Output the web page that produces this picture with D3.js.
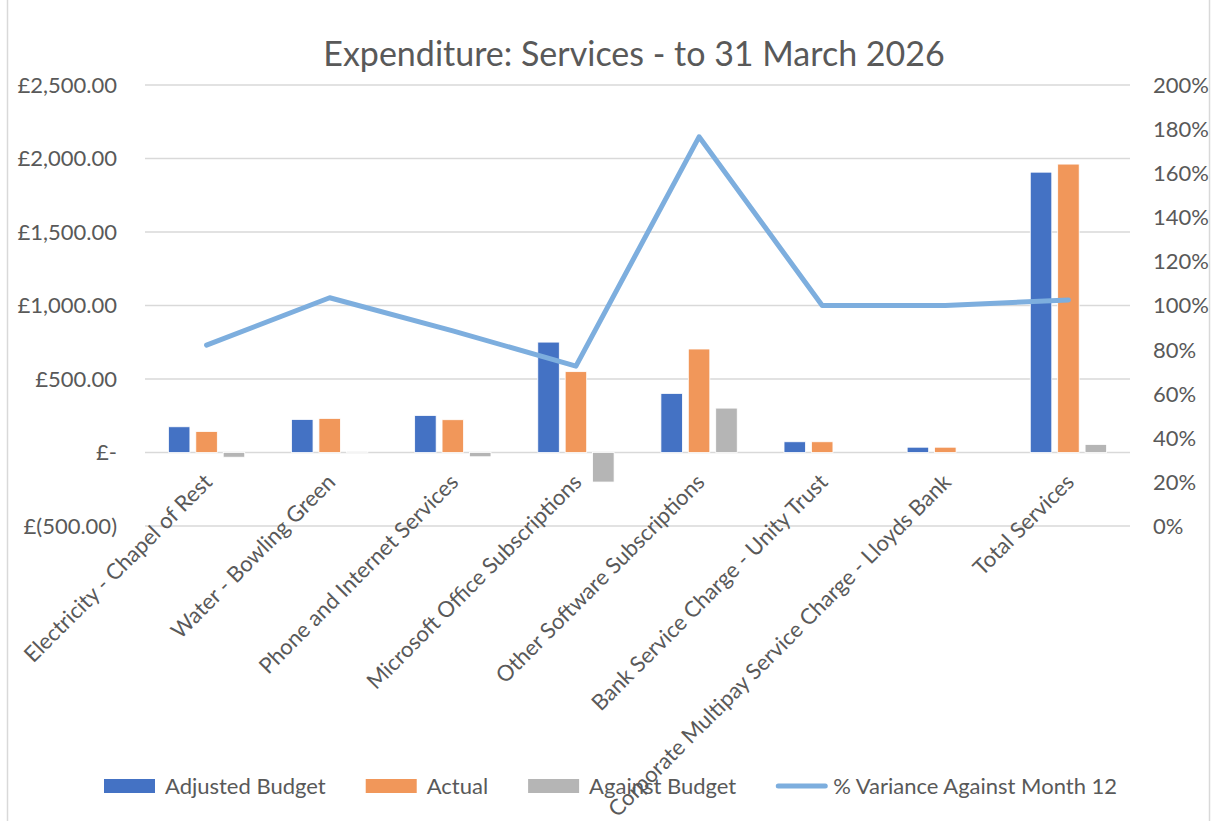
<!DOCTYPE html>
<html>
<head>
<meta charset="utf-8">
<script src="https://cdn.jsdelivr.net/npm/d3@7"></script>
<style>
  body { margin: 0; background: #fff; }
  text { font-family: Lato, "Open Sans", sans-serif; fill: #595959; }
</style>
</head>
<body>
<div id="chart"></div>
<script>
// chart data
const categories = [
  "Electricity - Chapel of Rest",
  "Water - Bowling Green",
  "Phone and Internet Services",
  "Microsoft Office Subscriptions",
  "Other Software Subscriptions",
  "Bank Service Charge - Unity Trust",
  "Corporate Multipay Service Charge - Lloyds Bank",
  "Total Services"
];
const seriesNames = ["Adjusted Budget", "Actual", "Against Budget"];
const adjustedBudget = [175, 225, 252, 751, 402, 73, 36, 1907];
const actual = [143, 232, 223, 550, 704, 73, 36, 1962];
const againstBudget = [-32, 7, -29, -201, 302, 0, 0, 55];
const variancePct = [0.82, 1.035, 0.885, 0.725, 1.765, 1.0, 1.0, 1.025];
const lineName = "% Variance Against Month 12";

const leftTicks = [-500, 0, 500, 1000, 1500, 2000, 2500];
const leftTickLabels = ["£(500.00)", "£-", "£500.00", "£1,000.00", "£1,500.00", "£2,000.00", "£2,500.00"];
const rightTicks = [0, 0.2, 0.4, 0.6, 0.8, 1.0, 1.2, 1.4, 1.6, 1.8, 2.0];

const colors = ["#4472C4", "#F1975A", "#B5B5B5"];
const lineColor = "#7DAEDE";

let width = 1212, height = 821;
let plot = { left: 145, right: 1130, top: 85, bottom: 526 };

let svg = d3.select("#chart").append("svg")
    .attr("width", width)
    .attr("height", height);

// chart area border
svg.append("rect")
    .attr("x", 7.5).attr("y", -5)
    .attr("width", 1202).attr("height", height + 10)
    .attr("fill", "none")
    .attr("stroke", "#D9D9D9")
    .attr("stroke-width", 1.5);

let x0 = d3.scaleBand().domain(categories).range([plot.left, plot.right]);
let x1 = d3.scaleBand().domain(seriesNames)
    .range([23.4, x0.bandwidth() - 23.4])
    .paddingInner(0.215);
let y = d3.scaleLinear().domain([-500, 2500]).range([plot.bottom, plot.top]);
let y2 = d3.scaleLinear().domain([0, 2]).range([plot.bottom, plot.top]);

// gridlines
svg.append("g").selectAll("line")
    .data(leftTicks)
    .enter().append("line")
    .attr("x1", plot.left).attr("x2", plot.right)
    .attr("y1", d => y(d)).attr("y2", d => y(d))
    .attr("stroke", "#D9D9D9")
    .attr("stroke-width", 1.5);

// left axis labels
svg.append("g").selectAll("text")
    .data(leftTicks)
    .enter().append("text")
    .attr("x", 117)
    .attr("y", d => y(d))
    .attr("dy", "0.36em")
    .attr("text-anchor", "end")
    .attr("font-size", "22px")
    .text((d, i) => leftTickLabels[i]);

// right axis labels
svg.append("g").selectAll("text")
    .data(rightTicks)
    .enter().append("text")
    .attr("x", 1153)
    .attr("y", d => y2(d))
    .attr("dy", "0.36em")
    .attr("font-size", "22px")
    .text(d => d3.format(".0%")(d));

// bars
let table = categories.map((c, i) => ({
  cat: c,
  vals: [adjustedBudget[i], actual[i], againstBudget[i]]
}));

let groups = svg.append("g").selectAll("g")
    .data(table)
    .enter().append("g")
    .attr("transform", d => `translate(${x0(d.cat)},0)`);

groups.selectAll("rect")
    .data(d => d.vals.map((v, k) => ({ name: seriesNames[k], v: v, k: k })))
    .enter().append("rect")
    .filter(d => d.v !== 0)
    .attr("x", d => x1(d.name))
    .attr("y", d => y(Math.max(0, d.v)))
    .attr("width", x1.bandwidth())
    .attr("height", d => Math.max(1, Math.abs(y(d.v) - y(0))))
    .attr("fill", d => colors[d.k])
    .attr("stroke", "#fff")
    .attr("stroke-width", 0.8);

// variance line
let line = d3.line()
    .x((d, i) => x0(categories[i]) + x0.bandwidth() / 2)
    .y(d => y2(d));

svg.append("path")
    .datum(variancePct)
    .attr("d", line)
    .attr("fill", "none")
    .attr("stroke", lineColor)
    .attr("stroke-width", 5)
    .attr("stroke-linejoin", "round")
    .attr("stroke-linecap", "round");

// category labels
svg.append("g").selectAll("text")
    .data(categories)
    .enter().append("text")
    .attr("transform", d => `translate(${x0(d) + x0.bandwidth() / 2 + 7},${y(0) + 31}) rotate(-45)`)
    .attr("text-anchor", "end")
    .attr("font-size", "22px")
    .text(d => d);

// title
svg.append("text")
    .attr("x", 634)
    .attr("y", 66)
    .attr("text-anchor", "middle")
    .attr("font-size", "34px")
    .text("Expenditure: Services - to 31 March 2026");

// legend
let legendItems = seriesNames.map((n, i) => ({ name: n, color: colors[i], type: "rect" }))
    .concat([{ name: lineName, color: lineColor, type: "line" }]);

let lx = 104, ly = 786;
let legend = svg.append("g");
legendItems.forEach(item => {
  if (item.type === "rect") {
    legend.append("rect")
        .attr("x", lx).attr("y", ly - 7)
        .attr("width", 51).attr("height", 14)
        .attr("fill", item.color);
  } else {
    legend.append("line")
        .attr("x1", lx + 2).attr("x2", lx + 49)
        .attr("y1", ly).attr("y2", ly)
        .attr("stroke", item.color)
        .attr("stroke-width", 5)
        .attr("stroke-linecap", "round");
  }
  let t = legend.append("text")
      .attr("x", lx + (item.type === "rect" ? 61 : 57))
      .attr("y", ly)
      .attr("dy", "0.36em")
      .attr("font-size", "22px")
      .text(item.name);
  lx += (item.type === "rect" ? 61 : 57) + t.node().getComputedTextLength() + 40;
});
</script>
</body>
</html>
